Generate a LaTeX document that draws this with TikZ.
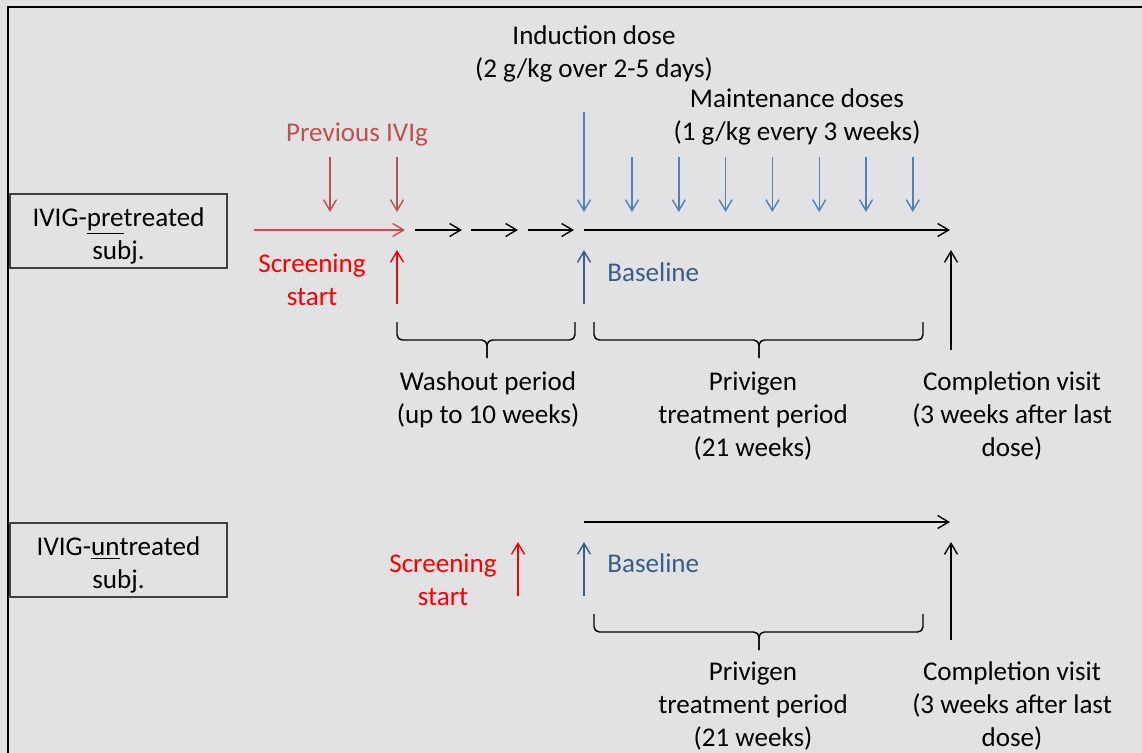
\documentclass[tikz,border=0pt]{standalone}
\usepackage{fontspec}
\setmainfont{Carlito}
\usetikzlibrary{arrows.meta}

\definecolor{bggray}{RGB}{226,226,228}
\definecolor{prevred}{RGB}{192,80,77}
\definecolor{scrred}{RGB}{255,0,0}
\definecolor{dosblue}{RGB}{79,129,189}
\definecolor{basblue}{RGB}{56,93,138}

\tikzset{
	tip/.style={-{Straight Barb[length=2.2mm,width=2.6mm]}, line width=0.8pt},
	lbl/.style={align=center, inner sep=0pt},
	subj/.style={draw=black!75, line width=0.6pt, minimum width=4.34cm, minimum height=1.48cm, align=center, inner sep=0pt},
	brc/.style={line width=0.8pt, rounded corners=3pt},
}

% brace: left x, right x, middle x, top y
\newcommand{\periodbrace}[4]{%
	\draw[brc] (#1,#4) -- (#1,#4+18) -- (#3,#4+18) -- (#3,#4+36);
	\draw[brc] (#2,#4) -- (#2,#4+18) -- (#3,#4+18) -- (#3,#4+36);}

\begin{document}
\begin{tikzpicture}[x=0.02cm, y=-0.02cm, font=\fontsize{15.4}{18.7}\selectfont]
	% Fondo y marco
		\fill[bggray] (0,0) rectangle (1142,753);
		\useasboundingbox (0,0) rectangle (1142,753);
		\draw[line width=1.1pt] (8,753) -- (8,7) -- (1142,7);

	% Grupos
		\node[subj] (pre) at (118.5,231) {\rule{0pt}{16.5pt}IVIG-\underline{pre}treated\\subj.};
		\node[subj] (un) at (118.5,560) {\rule{0pt}{16.5pt}IVIG-\underline{un}treated\\subj.};

	% Puntos de la linea de tiempo (pretratados)
		\coordinate (s0) at (254,230);
		\coordinate (s1) at (405,230);
		\coordinate (w1a) at (415,230); \coordinate (w1b) at (462,230);
		\coordinate (w2a) at (471,230); \coordinate (w2b) at (518,230);
		\coordinate (w3a) at (528,230); \coordinate (w3b) at (574,230);
		\coordinate (t0) at (584,230);
		\coordinate (t1) at (950,230);

	% Lineas de tiempo
		\draw[tip, prevred] (s0) -- (s1);
		\draw[tip] (w1a) -- (w1b);
		\draw[tip] (w2a) -- (w2b);
		\draw[tip] (w3a) -- (w3b);
		\draw[tip] (t0) -- (t1);

	% IVIg previa
		\node[lbl, prevred] (prev) at (357,135) {Previous IVIg};
		\coordinate (p1t) at (330,157); \coordinate (p1b) at (330,212);
		\coordinate (p2t) at (397,157); \coordinate (p2b) at (397,212);
		\draw[tip, prevred] (p1t) -- (p1b);
		\draw[tip, prevred] (p2t) -- (p2b);

	% Dosis
		\node[lbl] (ind) at (594,54) {Induction dose\\(2 g/kg over 2-5 days)};
		\node[lbl] (mnt) at (797,117) {Maintenance doses\\(1 g/kg every 3 weeks)};
		\coordinate (it) at (584,112); \coordinate (ib) at (584,212);
		\draw[tip, dosblue] (it) -- (ib);
		\foreach \k in {0,...,6}{
			\coordinate (m\k t) at (632+46.8*\k,157);
			\coordinate (m\k b) at (632+46.8*\k,212);
			\draw[tip, dosblue] (m\k t) -- (m\k b);
		}

	% Visitas (pretratados)
		\node[lbl, scrred] (scr) at (312,280) {Screening\\start};
		\coordinate (sa) at (397,304); \coordinate (sb) at (397,250);
		\draw[tip, scrred] (sa) -- (sb);
		\coordinate (ba) at (584,304); \coordinate (bb) at (584,250);
		\draw[tip, basblue] (ba) -- (bb);
		\node[lbl, basblue, anchor=west] (bas) at (607,272) {Baseline};
		\coordinate (ca) at (951,350); \coordinate (cb) at (951,250);
		\draw[tip] (ca) -- (cb);

	% Periodos (pretratados)
		\periodbrace{397}{575}{487}{322}
		\periodbrace{594}{923}{759}{322}
		\node[lbl] (wash) at (488,400) {Washout period\\(up to 10 weeks)};
		\node[lbl] (priv) at (753,416) {Privigen\\treatment period\\(21 weeks)};
		\node[lbl] (comp) at (1012,416) {Completion visit\\(3 weeks after last\\dose)};

	% No tratados
		\coordinate (u0) at (584,522); \coordinate (u1) at (950,522);
		\draw[tip] (u0) -- (u1);
		\node[lbl, scrred] (uscr) at (443,580) {Screening\\start};
		\coordinate (usa) at (518,596); \coordinate (usb) at (518,542);
		\draw[tip, scrred] (usa) -- (usb);
		\coordinate (uba) at (584,596); \coordinate (ubb) at (584,542);
		\draw[tip, basblue] (uba) -- (ubb);
		\node[lbl, basblue, anchor=west] (ubas) at (607,563) {Baseline};
		\coordinate (uca) at (951,640); \coordinate (ucb) at (951,542);
		\draw[tip] (uca) -- (ucb);
		\periodbrace{594}{923}{759}{614}
		\node[lbl] (upriv) at (753,706) {Privigen\\treatment period\\(21 weeks)};
		\node[lbl] (ucomp) at (1012,706) {Completion visit\\(3 weeks after last\\dose)};
\end{tikzpicture}
\end{document}
